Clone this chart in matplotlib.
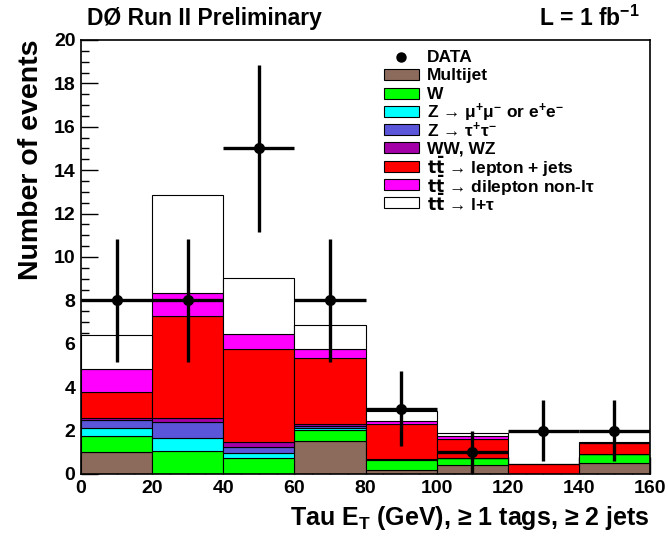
import matplotlib
matplotlib.use("Agg")
import matplotlib.pyplot as plt
from matplotlib.patches import Rectangle
from matplotlib.lines import Line2D
from matplotlib.ticker import MultipleLocator
import numpy as np

plt.rcParams['font.family'] = ['Liberation Sans', 'DejaVu Sans']
plt.rcParams['font.weight'] = 'bold'
plt.rcParams['mathtext.fontset'] = 'custom'
plt.rcParams['mathtext.rm'] = 'Liberation Sans:bold'
plt.rcParams['mathtext.bf'] = 'Liberation Sans:bold'
plt.rcParams['mathtext.it'] = 'Liberation Sans:bold'

# ---- data ----
bin_edges = [0, 20, 40, 60, 80, 100, 120, 140, 160]
bin_centers = [10, 30, 50, 70, 90, 110, 130, 150]
data_counts = [8, 8, 15, 8, 3, 1, 2, 2]
data_err = [2.83, 2.83, 3.87, 2.83, 1.73, 1.0, 1.41, 1.41]

multijet = [1.03, 0.00, 0.00, 1.52, 0.18, 0.41, 0.00, 0.52]
w_jets = [0.72, 1.06, 0.74, 0.51, 0.47, 0.34, 0.00, 0.40]
z_mumu_ee = [0.38, 0.61, 0.21, 0.09, 0.02, 0.00, 0.00, 0.00]
z_tautau = [0.36, 0.74, 0.31, 0.09, 0.02, 0.00, 0.00, 0.00]
ww_wz = [0.11, 0.19, 0.20, 0.09, 0.02, 0.00, 0.00, 0.00]
tt_ljets = [1.16, 4.68, 4.30, 3.03, 1.58, 0.86, 0.45, 0.49]
tt_dilep = [1.08, 1.05, 0.71, 0.42, 0.17, 0.14, 0.00, 0.00]
tt_ltau = [1.58, 4.51, 2.56, 1.10, 0.44, 0.15, 0.02, 0.05]

TT = r'$\mathbf{t\bar{t}}$'
labels = ['Multijet', 'W',
          'Z → μ$^{+}$μ$^{-}$ or e$^{+}$e$^{-}$',
          'Z → τ$^{+}$τ$^{-}$',
          'WW, WZ',
          TT + ' → lepton + jets',
          TT + ' → dilepton non-lτ',
          TT + ' → l+τ']
label_mathfont = ['custom'] * 5 + ['dejavusans'] * 3
colors = ['#8c6b5c', '#00ff00', '#00ffff', '#5a55d9', '#a300a8',
          '#ff0000', '#ff00ff', '#ffffff']
components = [multijet, w_jets, z_mumu_ee, z_tautau, ww_wz,
              tt_ljets, tt_dilep, tt_ltau]

W, H = 668, 537
fig = plt.figure(figsize=(W/100, H/100), dpi=100)
ax = fig.add_axes([81/W, 1-474/H, (650-81)/W, (474-40)/H])

lefts = bin_edges[:-1]
widths = np.diff(bin_edges)
bottom = np.zeros(len(lefts))
for comp, col in zip(components, colors):
    comp = np.array(comp)
    ax.bar(lefts, comp, width=widths, bottom=bottom, align='edge',
           color=col, edgecolor='black', linewidth=0.8, zorder=2)
    bottom = bottom + comp

ax.errorbar(bin_centers, data_counts, yerr=data_err, xerr=np.array(widths)/2,
            fmt='o', color='black', markersize=7, elinewidth=2.4, capsize=0,
            zorder=5)

ax.set_xlim(0, 160)
ax.set_ylim(0, 20)
ax.xaxis.set_major_locator(MultipleLocator(20))
ax.xaxis.set_minor_locator(MultipleLocator(5))
ax.yaxis.set_major_locator(MultipleLocator(2))
ax.yaxis.set_minor_locator(MultipleLocator(0.5))
ax.tick_params(which='both', direction='in', top=False, right=False,
               labelsize=14, width=1)
ax.tick_params(which='major', length=12, pad=4)
ax.tick_params(which='minor', length=6)
for s in ax.spines.values():
    s.set_linewidth(1.2)

ax.set_ylabel('Number of events', fontsize=20.5, fontweight='bold', loc='top', labelpad=7)
ax.set_xlabel(r'Tau E$_{\mathrm{T}}$ (GeV), ≥ 1 tags, ≥ 2 jets', fontsize=18,
              fontweight='bold', loc='right', labelpad=5)

# ---- legend (drawn in figure pixel coordinates) ----
def fx(px):
    return px / W

def fy(py):
    return 1 - py / H

row0, drow = 56.7, 18.25
fs_leg = 12.5
fig.add_artist(Line2D([fx(401)], [fy(row0)], marker='o', color='black',
                      markersize=6.5, linestyle='none', transform=fig.transFigure))
fig.text(fx(427), fy(row0 + 1), 'DATA', fontsize=fs_leg, fontweight='bold',
         ha='left', va='center')
for i, (col, lab, mf) in enumerate(zip(colors, labels, label_mathfont)):
    yc = row0 + drow * (i + 1)
    fig.add_artist(Rectangle((fx(383.5), fy(yc + 5.5)), (419 - 383.5) / W, 11 / H,
                             facecolor=col, edgecolor='black', linewidth=0.8,
                             transform=fig.transFigure))
    kw = {} if mf == 'custom' else {'math_fontfamily': mf}
    fig.text(fx(427), fy(yc + 1), lab, fontsize=fs_leg, fontweight='bold',
             ha='left', va='center', **kw)

fig.text(87/W, 1-18/H, 'DØ Run II Preliminary', fontsize=16.5, fontweight='bold',
         ha='left', va='center')
fig.text(640/W, 1-18/H, 'L = 1 fb$^{-1}$', fontsize=16.5, fontweight='bold',
         ha='right', va='center')

fig.savefig('out.png', dpi=100)
